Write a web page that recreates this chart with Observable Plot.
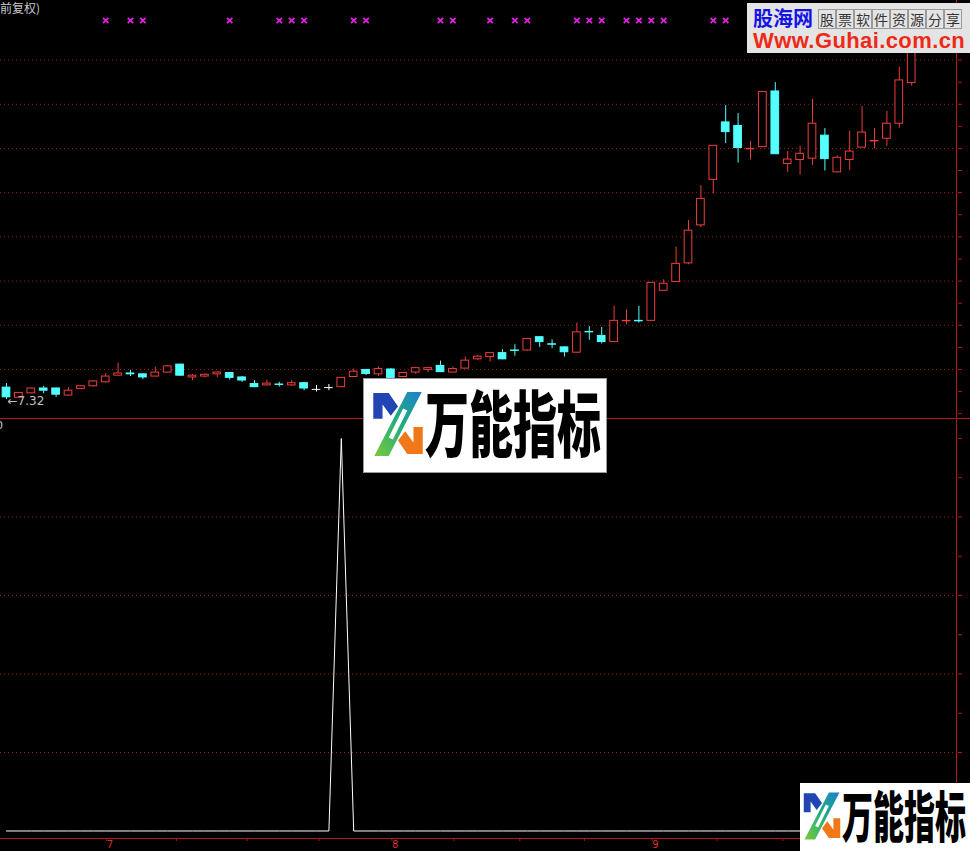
<!DOCTYPE html>
<html><head><meta charset="utf-8">
<script src="https://cdn.jsdelivr.net/npm/d3@7"></script>
<script src="https://cdn.jsdelivr.net/npm/@observablehq/plot@0.6"></script>
<style>
html,body{margin:0;padding:0;background:#000;}
#wrap{position:relative;width:970px;height:851px;overflow:hidden;background:#000;font-family:"Noto Sans CJK SC",sans-serif;}
.abs{position:absolute;}
.hline{position:absolute;left:0;width:970px;height:1px;background:#b41818;}
.vline{position:absolute;top:0;width:1px;height:851px;background:#b41818;}
.logo{position:absolute;background:#fff;box-sizing:border-box;border:1px solid #9a9a9a;}
.logo .t{position:absolute;white-space:nowrap;font-family:"Noto Sans CJK SC";font-weight:900;color:#000;line-height:1;transform-origin:0 0;}
#banner{position:absolute;left:747px;top:3px;width:223px;height:50px;background:#e4e4e4;overflow:hidden;}
#banner .gh{position:absolute;left:6px;top:5px;font:bold 20px "Noto Sans CJK SC";color:#1414e6;line-height:20px;}
#banner .cells{position:absolute;left:71px;top:6px;display:flex;}
#banner .cells span{display:inline-block;width:16px;height:18px;border:1px solid #9a9a9a;font:14px/18px "Noto Sans CJK SC";color:#333;text-align:center;box-sizing:content-box;}
#banner .url{position:absolute;left:6px;top:28px;font:bold 22px "Liberation Sans",Arial,sans-serif;color:#f02818;letter-spacing:0.4px;line-height:20px;}
</style></head><body>
<div id="wrap">
  <div id="top" class="abs" style="left:0;top:0"></div>
  <div id="bot" class="abs" style="left:0;top:419px"></div>
  <div class="hline" style="top:418px"></div>
  <div class="hline" style="top:838px"></div>
  <div class="vline" style="left:956px;height:838px"></div>
  <div class="abs" style="left:0;top:0;font:12px 'Noto Sans CJK SC';color:#c8c8c8;line-height:16px">前复权)</div>
  <div class="abs" style="left:-4px;top:419px;font:11px 'DejaVu Sans';color:#c8c8c8;line-height:13px">0</div>
  <div id="banner">
    <div class="gh">股海网</div>
    <div class="cells"><span>股</span><span>票</span><span>软</span><span>件</span><span>资</span><span>源</span><span>分</span><span>享</span></div>
    <div class="url">Www.Guhai.com.cn</div>
  </div>
  <div class="logo" style="left:363px;top:378px;width:244px;height:95px">
    <svg class="abs" style="left:8px;top:11px" width="52" height="68" viewBox="0 0 50 66">
      <defs><linearGradient id="g1" x1="1" y1="0" x2="0" y2="1"><stop offset="0" stop-color="#1c7fd0"/><stop offset="0.5" stop-color="#1fb07a"/><stop offset="1" stop-color="#7cc83a"/></linearGradient></defs>
      <path d="M1 3 h15 l9 13 -7 9 -8 -11 v14 h-9z" fill="#2146b4"/>
      <path d="M49 36 v26 h-15 l-9 -13 7 -9 8 11 v-15z" fill="#f07818"/>
      <path d="M34 2 h14 l-32 62 h-14z" fill="url(#g1)"/>
      <path d="M30 18 l4 2 -14 28 -4 -2z" fill="#fff"/>
    </svg>
    <div class="t" style="left:61px;top:6px;font-size:44px;transform:scaleY(1.62)">万能指标</div>
  </div>
  <div class="logo" style="left:800px;top:783px;width:172px;height:70px;border:none">
    <svg class="abs" style="left:3px;top:7px" width="38" height="52" viewBox="0 0 50 66">
      <defs><linearGradient id="g2" x1="1" y1="0" x2="0" y2="1"><stop offset="0" stop-color="#1c7fd0"/><stop offset="0.5" stop-color="#1fb07a"/><stop offset="1" stop-color="#7cc83a"/></linearGradient></defs>
      <path d="M1 3 h15 l9 13 -7 9 -8 -11 v14 h-9z" fill="#2146b4"/>
      <path d="M49 36 v26 h-15 l-9 -13 7 -9 8 11 v-15z" fill="#f07818"/>
      <path d="M34 2 h14 l-32 62 h-14z" fill="url(#g2)"/>
      <path d="M30 18 l4 2 -14 28 -4 -2z" fill="#fff"/>
    </svg>
    <div class="t" style="left:42px;top:3px;font-size:31px;transform:scaleY(1.75)">万能指标</div>
  </div>
</div>
<script>
// ---- data (price, 前复权) ----
const opens  = [7.59,7.36,7.46,7.57,7.57,7.41,7.56,7.62,7.71,7.86,7.91,7.89,7.84,7.93,8.11,7.82,7.84,7.89,7.92,7.82,
                7.67,7.64,7.66,7.64,7.69,7.55,7.59,7.60,7.83,7.99,7.89,8.00,7.83,7.93,7.99,8.08,7.93,8.02,8.23,8.28,
                8.37,8.43,8.43,8.73,8.57,8.50,8.38,8.85,8.76,8.62,9.09,9.10,9.10,9.78,9.98,10.40,11.26,12.29,13.59,13.51,
                12.98,13.03,14.29,12.65,12.74,12.77,13.29,12.46,12.74,13.02,13.16,13.22,13.56,14.48];
const closes = [7.37,7.47,7.57,7.52,7.43,7.52,7.62,7.73,7.84,7.91,7.89,7.82,7.93,8.07,7.86,7.86,7.88,7.93,7.81,7.75,
                7.60,7.68,7.65,7.69,7.57,7.55,7.59,7.81,7.95,7.90,8.01,7.81,7.92,8.03,8.03,7.94,8.01,8.20,8.29,8.37,
                8.23,8.42,8.69,8.62,8.56,8.39,8.84,8.84,8.62,9.10,9.10,9.09,9.96,9.94,10.39,11.14,11.86,13.06,13.37,13.01,
                12.99,14.28,12.87,12.75,12.88,13.56,12.76,12.79,12.93,13.36,13.17,13.56,14.54,15.44];
const highs  = [7.68,7.48,7.58,7.62,7.58,7.59,7.64,7.74,7.91,8.14,7.98,7.90,8.05,8.09,8.12,7.89,7.90,7.94,7.93,7.84,
                7.75,7.76,7.71,7.75,7.71,7.64,7.66,7.82,8.01,8.00,8.06,8.02,7.93,8.04,8.05,8.19,8.06,8.28,8.32,8.38,
                8.45,8.56,8.70,8.74,8.67,8.51,9.05,8.97,8.95,9.43,9.35,9.43,9.96,10.03,10.77,11.37,12.16,13.06,13.97,13.79,
                13.16,14.28,14.49,12.93,13.05,14.11,13.45,12.83,13.39,13.95,13.45,13.84,14.84,15.67];
const lows   = [7.32,7.34,7.45,7.45,7.37,7.40,7.55,7.60,7.69,7.85,7.84,7.77,7.83,7.92,7.85,7.75,7.81,7.82,7.76,7.71,
                7.59,7.63,7.60,7.62,7.52,7.49,7.52,7.59,7.82,7.86,7.84,7.80,7.82,7.89,7.93,7.93,7.92,8.01,8.20,8.17,
                8.22,8.30,8.41,8.50,8.47,8.28,8.37,8.66,8.58,8.61,9.01,9.05,9.10,9.78,9.98,10.37,11.21,11.98,13.11,12.67,
                12.74,13.03,12.87,12.46,12.40,12.62,12.49,12.45,12.50,13.02,12.99,13.05,13.46,14.41];
// signal markers (×) on the top row: candle indices
const signalIdx = [8,10,11,18,22,23,24,28,29,35,36,39,41,42,46,47,48,50,51,52,53,57,58];
// lower indicator values
const indicator = opens.map((_, i) => 0);
indicator[27] = 100;
// axes / grids
const priceGrid = [8,9,10,11,12,13,14,15];
const priceTicks = d3.range(7, 16.01, 0.5);
const indGrid = [20,40,60,80];
const indTicks = [0,10,20,30,40,50,60,70,80,90,100];
const monthTicks = [8,31,52];
const monthLabels = ["7","8","9"];
const minorTicks = [13.7,19.4,25.2,36.1,41.4,46.6,57.3,62.6];

// ---- styling ----
const UP = "#f03c3c", DOWN = "#54ffff", FLAT = "#ffffff";
const GRID = "#9a1e1e", AXIS = "#b41818";
const BW = 0.31;

const candles = opens.map((o, i) => ({i, open: o, close: closes[i], high: highs[i], low: lows[i]}));
const kind = d => d.close > d.open ? "up" : d.close < d.open ? "down" : "flat";
const col = d => ({up: UP, down: DOWN, flat: FLAT})[kind(d)];
const flats = candles.filter(d => kind(d) === "flat");
const bodies = candles.filter(d => kind(d) !== "flat");
const lowest = candles.reduce((a, b) => (b.low < a.low ? b : a));
const xOpt = {type: "linear", domain: [-0.484, 76.694], axis: null};

const topChart = Plot.plot({
  width: 970, height: 418, marginLeft: 0, marginRight: 13, marginTop: 0, marginBottom: 0,
  style: {background: "#000", overflow: "visible"},
  x: xOpt,
  y: {domain: [6.891, 16.348], axis: null},
  marks: [
    Plot.ruleY(priceGrid, {stroke: GRID, strokeDasharray: "1,3"}),
    Plot.axisY(priceTicks, {anchor: "right", tickSize: 4, tickFormat: () => "", stroke: AXIS, label: null}),
    Plot.ruleX(candles, {x: "i", y1: "low", y2: "high", stroke: col, strokeWidth: 1}),
    Plot.rect(bodies, {x1: d => d.i - BW, x2: d => d.i + BW, y1: "open", y2: "close",
      fill: d => kind(d) === "down" ? DOWN : "#000", stroke: col, strokeWidth: 1}),
    Plot.ruleY(flats, {y: "open", x1: d => d.i - BW - 0.04, x2: d => d.i + BW + 0.04, stroke: FLAT, strokeWidth: 1}),
    Plot.dot(signalIdx, {x: d => d, frameAnchor: "top", dy: 20, symbol: "times", r: 2.6, stroke: "#e020e0", strokeWidth: 1.8}),
    Plot.text([lowest], {x: "i", y: "low", text: d => "←" + d.low.toFixed(2), textAnchor: "start", dx: 1, dy: 2,
      fill: "#c0c0c0", fontSize: 12, fontFamily: "DejaVu Sans"})
  ]
});
document.getElementById("top").appendChild(topChart);

const botChart = Plot.plot({
  width: 970, height: 432, marginLeft: 0, marginRight: 13, marginTop: 0, marginBottom: 13,
  style: {background: "#000", overflow: "visible"},
  x: xOpt,
  y: {domain: [-1.911, 104.84], axis: null},
  marks: [
    Plot.ruleY(indGrid, {stroke: GRID, strokeDasharray: "1,3"}),
    Plot.axisY(indTicks, {anchor: "right", tickSize: 4, tickFormat: () => "", stroke: AXIS, label: null}),
    Plot.axisX(minorTicks, {anchor: "bottom", tickSize: 3, tickFormat: () => "", stroke: AXIS, label: null}),
    Plot.axisX(monthTicks, {anchor: "bottom", tickSize: 3, tickPadding: -1, tickFormat: d => monthLabels[monthTicks.indexOf(d)],
      stroke: AXIS, fill: "#d83030", textAnchor: "start", dx: 1, fontSize: 10, fontFamily: "DejaVu Sans", label: null}),
    Plot.line(indicator.map((v, i) => ({i, v})), {x: "i", y: "v", stroke: "#ffffff", strokeWidth: 1})
  ]
});
document.getElementById("bot").appendChild(botChart);
</script>
</body></html>
